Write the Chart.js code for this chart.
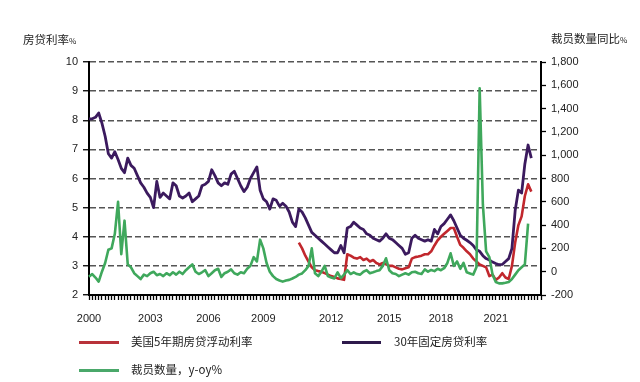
<!DOCTYPE html>
<html><head><meta charset="utf-8">
<script src="https://cdn.jsdelivr.net/npm/chart.js@4.4.1/dist/chart.umd.min.js"></script>
<style>
html,body{margin:0;padding:0;background:#fff;}
#wrap{position:relative;width:640px;height:382px;overflow:hidden;background:#fff;}
#c{position:absolute;left:0;top:0;}
.t{position:absolute;font-family:"Noto Sans CJK SC","Noto Sans",sans-serif;color:#222;white-space:nowrap;line-height:1;}
.pct{font-size:8px;}
.lg{position:absolute;height:3px;}
</style></head><body>
<div id="wrap">
<canvas id="c" width="640" height="382" style="width:640px;height:382px"></canvas>
<div class="t" style="left:23px;top:34px;font-size:11.5px">房贷利率<span class="pct">%</span></div>
<div class="t" style="left:551px;top:33px;font-size:11.5px">裁员数量同比<span class="pct">%</span></div>
<div class="lg" style="left:79px;top:341px;width:40px;background:#b8323a"></div>
<div class="t" style="left:131px;top:336px;font-size:11.5px">美国5年期房贷浮动利率</div>
<div class="lg" style="left:342px;top:341px;width:39px;background:#2e1a4c"></div>
<div class="t" style="left:394px;top:336px;font-size:11.5px">30年固定房贷利率</div>
<div class="lg" style="left:79px;top:369px;width:40px;background:#4aa86a"></div>
<div class="t" style="left:131px;top:364px;font-size:11.5px">裁员数量，y-oy%</div>
</div>
<script>
// bi-monthly categories, 2000-01 .. 2023-05
const monthLabels = [];
for (let y = 2000; y <= 2023; y++) {
  for (let m = 1; m <= 11; m += 2) {
    if (y === 2023 && m > 5) break;
    monthLabels.push(y + '-' + String(m).padStart(2, '0'));
  }
}
const yearTickLabels = ['2000','2003','2006','2009','2012','2015','2018','2021'];
const yearTickMonths = ['2000-01','2003-03','2006-03','2009-01','2012-07','2015-07','2018-03','2021-01'];

const leftTicks = [2,3,4,5,6,7,8,9,10];
const rightTicks = [-200,0,200,400,600,800,1000,1200,1400,1600,1800];

// 30-year fixed mortgage rate, %
const fixed30 = [
  8.05, 8.05, 8.1, 8.25, 7.9, 7.45, 6.85, 6.7, 6.92, 6.65,
  6.35, 6.2, 6.7, 6.45, 6.35, 6.1, 5.85, 5.7, 5.5, 5.35,
  5.0, 5.9, 5.35, 5.5, 5.4, 5.3, 5.85, 5.75, 5.4, 5.33,
  5.4, 5.5, 5.2, 5.3, 5.4, 5.75, 5.8, 5.9, 6.3, 6.1,
  5.85, 5.75, 5.85, 5.8, 6.15, 6.25, 6.0, 5.75, 5.55, 5.7,
  6.0, 6.2, 6.4, 5.6, 5.3, 5.2, 4.95, 5.3, 5.25, 5.05,
  5.15, 5.05, 4.85, 4.5, 4.35, 4.95, 4.85, 4.65, 4.4, 4.15,
  4.05, 3.95, 3.85, 3.75, 3.65, 3.55, 3.45, 3.45, 3.7, 3.45,
  4.3, 4.35, 4.5, 4.4, 4.3, 4.25, 4.1, 4.05, 3.95, 3.9,
  3.85, 3.95, 4.1, 3.95, 3.9, 3.8, 3.7, 3.6, 3.4, 3.45,
  3.95, 4.05, 3.95, 3.9, 3.85, 3.9, 3.85, 4.25, 4.1, 4.35,
  4.45, 4.6, 4.75, 4.55, 4.3, 4.05, 3.95, 3.88, 3.8, 3.7,
  3.55, 3.5, 3.35, 3.25, 3.2, 3.13, 3.08, 3.04, 3.05, 3.15,
  3.25, 3.6, 4.9, 5.6, 5.5, 6.5, 7.15, 6.7
];

// US 5-year adjustable mortgage rate, % (starts 2010-11)
const arm5Values = [
  3.8, 3.6, 3.35, 3.15, 2.95,
  2.85, 2.82, 2.8, 2.75, 2.7, 2.65, 2.62, 2.57, 2.55, 2.52,
  3.4, 3.35, 3.28, 3.25, 3.3, 3.2, 3.25, 3.15, 3.2, 3.1,
  3.05, 3.1, 3.05, 3.0, 3.0, 2.95, 2.9, 2.88, 2.92, 2.95,
  3.25, 3.3, 3.32, 3.35, 3.4, 3.4, 3.5, 3.7, 3.88, 4.0,
  4.1, 4.2, 4.3, 4.3, 4.0, 3.72, 3.62, 3.5, 3.4, 3.25,
  3.15, 3.05, 3.0, 2.95, 2.65, 2.7, 2.52, 2.6, 2.75, 2.6,
  2.55, 3.0, 3.8, 4.4, 4.7, 5.4, 5.8, 5.55
];
const arm5 = Array(65).fill(null).concat(arm5Values);

// job cuts, y-o-y %
const layoffs = [
  -43, -20, -50, -85, 0, 75, 188, 200, 325, 600,
  150, 438, 63, 38, -13, -38, -63, -25, -38, -13,
  0, -30, -20, -38, -13, -30, -5, -25, 0, -20,
  13, 38, 63, 0, -20, -5, 13, -38, -13, 13,
  25, -45, -13, 0, 20, -13, -25, -5, -13, 25,
  50, 125, 88, 275, 200, 75, 0, -38, -63, -75,
  -85, -75, -70, -58, -45, -25, -15, 13, 50, 200,
  -13, -38, 0, 50, -38, -50, -58, -5, -55, -25,
  13, -20, -5, -20, -25, 0, 13, -13, -5, 5,
  13, 50, 115, 13, -13, -20, -38, -25, -13, -25,
  -5, 0, -13, -20, 20, 0, 15, 5, 25, 13,
  30, 75, 158, 50, 88, 25, 75, -5, -15, -25,
  38, 1575, 575, 175, 125, -25, -88, -100, -100, -95,
  -88, -63, -25, 13, 38, 63, 413
];

const tickFont = { family: "'Liberation Sans', Arial, sans-serif", size: 11 };

new Chart(document.getElementById('c'), {
  type: 'line',
  data: {
    labels: monthLabels,
    datasets: [
      { label: '裁员数量，y-oy%', data: layoffs, yAxisID: 'y2', borderColor: '#3fa85c', borderWidth: 2.6, pointRadius: 0, tension: 0, borderJoinStyle: 'round' },
      { label: '30年固定房贷利率', data: fixed30, yAxisID: 'y', borderColor: '#3b1a5e', borderWidth: 2.8, pointRadius: 0, tension: 0, borderJoinStyle: 'round' },
      { label: '美国5年期房贷浮动利率', data: arm5, yAxisID: 'y', borderColor: '#c1272d', borderWidth: 2.6, pointRadius: 0, tension: 0, borderJoinStyle: 'round', spanGaps: false }
    ]
  },
  options: {
    responsive: false,
    maintainAspectRatio: false,
    animation: false,
    layout: { padding: { top: 62, left: 0, right: 0, bottom: 0 } },
    plugins: { legend: { display: false }, tooltip: { enabled: false } },
    scales: {
      x: {
        type: 'category',
        offset: false,
        afterFit: s => { s.height = 87; },
        border: { display: true, color: '#000', width: 2 },
        grid: { drawOnChartArea: false, drawTicks: true, tickLength: 5, tickColor: '#000', tickWidth: 1.3, offset: false },
        ticks: {
          autoSkip: false, maxRotation: 0, minRotation: 0, padding: 12,
          color: '#222', font: tickFont,
          callback: function (v, i) { const k = yearTickMonths.indexOf(monthLabels[i]); return k >= 0 ? yearTickLabels[k] : ''; }
        }
      },
      y: {
        position: 'left',
        min: leftTicks[0], max: leftTicks[leftTicks.length - 1],
        afterFit: s => { s.width = 89; },
        afterBuildTicks: s => { s.ticks = leftTicks.map(v => ({ value: v })); },
        border: { display: true, color: '#000', width: 2, dash: [6, 3] },
        grid: {
          drawOnChartArea: true,
          color: '#555555',
          lineWidth: 1.5,
          tickBorderDash: [],
          tickColor: '#000', tickWidth: 1.3, tickLength: 6
        },
        ticks: { padding: 5, color: '#222', font: tickFont }
      },
      y2: {
        position: 'right',
        min: rightTicks[0], max: rightTicks[rightTicks.length - 1],
        afterFit: s => { s.width = 99; },
        afterBuildTicks: s => { s.ticks = rightTicks.map(v => ({ value: v })); },
        border: { display: true, color: '#000', width: 2 },
        grid: { drawOnChartArea: false, tickColor: '#000', tickWidth: 1.3, tickLength: 5 },
        ticks: { padding: 5, color: '#222', font: tickFont, callback: v => v.toLocaleString('en-US') }
      }
    }
  }
});
</script>
</body></html>
